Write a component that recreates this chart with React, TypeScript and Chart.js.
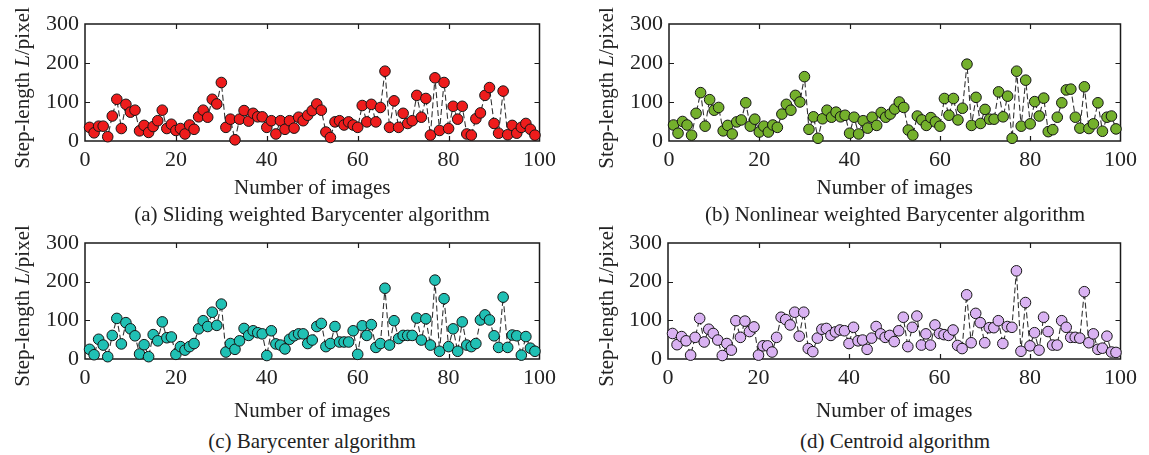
import React, { useEffect, useRef } from "react";
import { Chart, registerables } from "chart.js";

Chart.register(...registerables);

// ---------- data ----------
const xTicks = [0, 20, 40, 60, 80, 100];
const yTicks = [0, 100, 200, 300];

const slidingWeighted = [
  35, 21, 38, 38, 11, 64, 107, 32, 94, 74,
  79, 26, 40, 22, 37, 52, 79, 32, 43, 27,
  32, 18, 41, 30, 62, 79, 61, 107, 95, 150,
  35, 56, 3, 56, 78, 51, 71, 62, 62, 35,
  52, 18, 52, 30, 52, 33, 61, 52, 66, 78,
  95, 79, 23, 9, 49, 52, 41, 49, 41, 35,
  91, 49, 94, 49, 86, 179, 35, 103, 35, 71,
  45, 52, 117, 61, 109, 15, 162, 27, 150, 32,
  89, 56, 89, 18, 15, 57, 72, 117, 137, 45,
  20, 128, 16, 40, 20, 35, 45, 30, 15,
];

const nonlinearWeighted = [
  41, 20, 50, 41, 15, 71, 124, 38, 106, 79,
  86, 26, 40, 18, 49, 54, 98, 38, 56, 23,
  38, 23, 41, 35, 69, 94, 79, 117, 100, 165,
  30, 62, 7, 57, 79, 61, 74, 62, 66, 20,
  61, 18, 52, 33, 61, 40, 73, 61, 69, 82,
  100, 86, 28, 15, 64, 54, 40, 60, 49, 38,
  109, 66, 109, 54, 84, 197, 40, 112, 45, 81,
  56, 56, 126, 62, 115, 7, 179, 38, 156, 44,
  101, 64, 110, 24, 29, 61, 98, 131, 133, 61,
  33, 139, 32, 44, 98, 25, 61, 64, 31,
];

const barycenter = [
  25, 11, 51, 36, 6, 61, 105, 39, 94, 78,
  60, 13, 37, 6, 63, 47, 96, 55, 57, 12,
  32, 23, 32, 40, 78, 99, 84, 121, 87, 142,
  18, 40, 25, 47, 79, 61, 73, 68, 65, 9,
  73, 39, 36, 26, 51, 60, 65, 65, 40, 49,
  84, 92, 32, 40, 84, 44, 44, 44, 73, 12,
  86, 61, 89, 30, 40, 183, 36, 99, 53, 61,
  61, 61, 106, 49, 104, 36, 204, 20, 156, 32,
  78, 20, 96, 36, 32, 40, 101, 114, 101, 60,
  30, 160, 30, 62, 60, 10, 58, 28, 20,
];

const centroid = [
  66, 37, 58, 47, 10, 56, 105, 44, 77, 66,
  49, 9, 40, 23, 99, 56, 98, 71, 83, 10,
  34, 34, 18, 56, 108, 102, 88, 121, 59, 121,
  27, 19, 54, 77, 79, 61, 70, 75, 73, 40,
  82, 47, 49, 25, 54, 84, 65, 56, 61, 45,
  73, 108, 32, 82, 111, 36, 65, 36, 88, 66,
  63, 61, 75, 35, 27, 166, 42, 118, 94, 42,
  81, 81, 99, 40, 84, 82, 228, 20, 146, 34,
  68, 23, 108, 71, 36, 36, 99, 82, 56, 56,
  54, 174, 42, 65, 25, 28, 59, 18, 17,
];

const panelTitles = [
  "(a) Sliding weighted Barycenter algorithm",
  "(b) Nonlinear weighted Barycenter algorithm",
  "(c) Barycenter algorithm",
  "(d) Centroid algorithm",
];
const xTitle = "Number of images";

// ---------- styling ----------
const FONT_FAMILY = "'Liberation Serif', 'Times New Roman', serif";
const TEXT_COLOR = "#222";

const framePlugin = {
  id: "frame",
  beforeDatasetsDraw(chart: any) {
    const { ctx, chartArea, scales } = chart;
    const { left, right, top, bottom } = chartArea;
    const x = scales.x;
    const y = scales.y;
    ctx.save();
    ctx.strokeStyle = "#1a1a1a";
    ctx.lineWidth = 1.5;
    ctx.strokeRect(left, top, right - left, bottom - top);
    ctx.lineWidth = 1.2;
    ctx.beginPath();
    const tl = 5;
    xTicks.forEach((v) => {
      if (v === xTicks[0] || v === xTicks[xTicks.length - 1]) return;
      const px = Math.round(x.getPixelForValue(v)) + 0.5;
      ctx.moveTo(px, bottom);
      ctx.lineTo(px, bottom - tl);
      ctx.moveTo(px, top);
      ctx.lineTo(px, top + tl);
    });
    yTicks.forEach((v) => {
      if (v === yTicks[0] || v === yTicks[yTicks.length - 1]) return;
      const py = Math.round(y.getPixelForValue(v)) + 0.5;
      ctx.moveTo(left, py);
      ctx.lineTo(left + tl, py);
      ctx.moveTo(right, py);
      ctx.lineTo(right - tl, py);
    });
    ctx.stroke();
    ctx.restore();
  },
};

type PanelProps = {
  values: number[];
  color: string;
  canvasLeft: number;
  canvasTop: number;
  plotLeft: number;
  plotRight: number;
  plotTop: number;
  plotBottom: number;
  canvasBottom: number;
};

function Panel(p: PanelProps) {
  const ref = useRef<HTMLCanvasElement | null>(null);
  const width = p.plotRight + 22 - p.canvasLeft;
  const height = p.canvasBottom - p.canvasTop;

  useEffect(() => {
    if (!ref.current) return;
    const yW = p.plotLeft - p.canvasLeft;
    const xH = p.canvasBottom - p.plotBottom;
    const chart = new Chart(ref.current, {
      type: "line",
      data: {
        datasets: [
          {
            data: p.values.map((v, i) => ({ x: i + 1, y: v })),
            borderColor: "#333",
            borderWidth: 1.1,
            borderDash: [6, 3],
            pointRadius: 5.3,
            pointHoverRadius: 5.3,
            pointBackgroundColor: p.color,
            pointBorderColor: "#151515",
            pointBorderWidth: 1,
            tension: 0,
            clip: false as any,
          },
        ],
      },
      options: {
        animation: false,
        responsive: false,
        maintainAspectRatio: false,
        layout: {
          padding: { top: p.plotTop - p.canvasTop, right: 22, left: 0, bottom: 0 },
        },
        plugins: {
          legend: { display: false },
          tooltip: { enabled: false },
        },
        events: [],
        scales: {
          x: {
            type: "linear",
            min: 0,
            max: 100,
            afterBuildTicks: (s: any) => {
              s.ticks = xTicks.map((v) => ({ value: v }));
            },
            afterFit: (s: any) => {
              s.height = xH;
            },
            grid: { display: false, drawTicks: false },
            border: { display: false },
            ticks: {
              font: { family: FONT_FAMILY, size: 22 },
              color: TEXT_COLOR,
              padding: 6,
              maxRotation: 0,
              autoSkip: false,
            },
            title: {
              display: true,
              text: xTitle,
              font: { family: FONT_FAMILY, size: 21 },
              color: TEXT_COLOR,
              padding: { top: 0, bottom: 2 },
            },
          },
          y: {
            type: "linear",
            min: 0,
            max: 300,
            afterBuildTicks: (s: any) => {
              s.ticks = yTicks.map((v) => ({ value: v }));
            },
            afterFit: (s: any) => {
              s.width = yW;
            },
            grid: { display: false, drawTicks: false },
            border: { display: false },
            ticks: {
              font: { family: FONT_FAMILY, size: 22 },
              color: TEXT_COLOR,
              padding: 6,
            },
          },
        },
      },
      plugins: [framePlugin],
    });
    return () => chart.destroy();
  }, []);

  return (
    <canvas
      ref={ref}
      width={width}
      height={height}
      style={{
        position: "absolute",
        left: p.canvasLeft,
        top: p.canvasTop,
        width,
        height,
      }}
    />
  );
}

const textStyle: React.CSSProperties = {
  position: "absolute",
  fontFamily: FONT_FAMILY,
  fontSize: 21,
  color: TEXT_COLOR,
  whiteSpace: "nowrap",
  transform: "translate(-50%, -50%)",
  lineHeight: 1,
};

function YLabel({ x, y }: { x: number; y: number }) {
  return (
    <div
      style={{
        ...textStyle,
        left: x,
        top: y,
        transform: "translate(-50%, -50%) rotate(-90deg)",
      }}
    >
      Step-length <i>L</i>/pixel
    </div>
  );
}

function Caption({ x, y, text }: { x: number; y: number; text: string }) {
  return <div style={{ ...textStyle, left: x, top: y }}>{text}</div>;
}

export default function App() {
  return (
    <div
      style={{
        position: "absolute",
        left: 0,
        top: 0,
        width: 1149,
        height: 455,
        background: "#fff",
        overflow: "hidden",
      }}
    >
      <Panel values={slidingWeighted} color="#ee1c1c" canvasLeft={0} canvasTop={0}
        plotLeft={85} plotRight={540} plotTop={24} plotBottom={141} canvasBottom={203} />
      <Panel values={nonlinearWeighted} color="#74b02c" canvasLeft={580} canvasTop={0}
        plotLeft={669} plotRight={1121} plotTop={24} plotBottom={141} canvasBottom={203} />
      <Panel values={barycenter} color="#20c0b4" canvasLeft={0} canvasTop={220}
        plotLeft={85} plotRight={540} plotTop={243} plotBottom={359} canvasBottom={426} />
      <Panel values={centroid} color="#d9b2f2" canvasLeft={580} canvasTop={220}
        plotLeft={668} plotRight={1121} plotTop={243} plotBottom={359} canvasBottom={426} />

      <YLabel x={22} y={88} />
      <YLabel x={606} y={88} />
      <YLabel x={22} y={306} />
      <YLabel x={606} y={306} />

      <Caption x={312} y={214} text={panelTitles[0]} />
      <Caption x={895} y={214} text={panelTitles[1]} />
      <Caption x={312} y={441} text={panelTitles[2]} />
      <Caption x={895} y={441} text={panelTitles[3]} />
    </div>
  );
}
